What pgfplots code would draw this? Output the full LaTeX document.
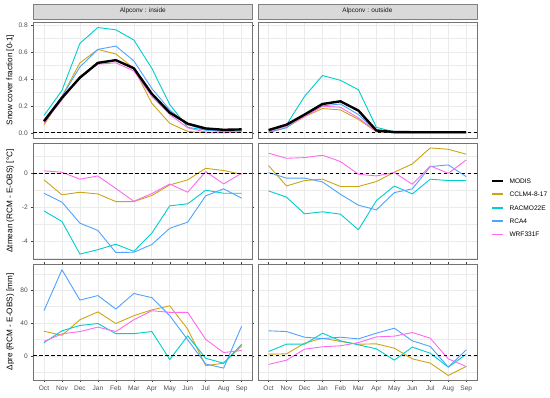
\documentclass[border=0pt]{standalone}
\usepackage{fontspec}
\setmainfont{Liberation Sans}
\usepackage{pgfplots}
\pgfplotsset{compat=1.18}
\usepackage{pgfplotstable}

\definecolor{cclm}{RGB}{205,165,20}
\definecolor{racmo}{RGB}{0,205,205}
\definecolor{rca}{RGB}{77,163,255}
\definecolor{wrf}{RGB}{255,105,240}
\definecolor{gridc}{RGB}{235,235,235}
\definecolor{tickc}{RGB}{77,77,77}
\definecolor{stripc}{RGB}{217,217,217}

\pgfplotstableread{
m modis cclm racmo rca wrf
1 0.086 0.057 0.128 0.086 0.074
2 0.260 0.270 0.315 0.270 0.245
3 0.410 0.520 0.665 0.490 0.420
4 0.520 0.620 0.783 0.620 0.510
5 0.540 0.586 0.766 0.645 0.520
6 0.480 0.480 0.690 0.535 0.460
7 0.290 0.220 0.480 0.330 0.270
8 0.150 0.070 0.210 0.170 0.135
9 0.067 0.010 0.040 0.060 0.037
10 0.032 0.000 0.020 0.020 0.005
11 0.022 0.000 0.010 0.010 0.000
12 0.025 0.005 0.020 0.012 0.007
}\snowin

\pgfplotstableread{
m modis cclm racmo rca wrf
1 0.020 0.000 0.012 0.005 0.010
2 0.060 0.040 0.060 0.037 0.050
3 0.135 0.120 0.270 0.135 0.120
4 0.214 0.180 0.426 0.200 0.197
5 0.234 0.170 0.390 0.214 0.190
6 0.165 0.100 0.320 0.135 0.110
7 0.017 0.007 0.040 0.012 0.010
8 0.005 0.000 0.007 0.000 0.000
9 0.004 0.000 0.000 0.000 0.000
10 0.004 0.000 0.000 0.000 0.000
11 0.004 0.000 0.000 0.000 0.000
12 0.004 0.000 0.000 0.000 0.000
}\snowout

\pgfplotstableread{
m cclm racmo rca wrf
1 -0.39 -2.22 -1.18 0.14
2 -1.27 -2.84 -1.70 0.06
3 -1.12 -4.76 -2.94 -0.35
4 -1.22 -4.50 -3.37 -0.16
5 -1.67 -4.18 -4.67 -0.90
6 -1.67 -4.60 -4.65 -1.65
7 -1.31 -3.53 -4.20 -1.20
8 -0.69 -1.92 -3.24 -0.63
9 -0.39 -1.80 -2.88 -1.12
10 0.29 -1.00 -1.33 0.10
11 0.16 -1.18 -0.92 -0.63
12 -0.06 -1.18 -1.47 0.00
}\tin

\pgfplotstableread{
m cclm racmo rca wrf
1 0.45 -1.04 0.04 1.18
2 -0.75 -1.41 -0.29 0.88
3 -0.43 -2.39 -0.29 0.92
4 -0.35 -2.27 -0.51 1.06
5 -0.78 -2.41 -1.24 0.69
6 -0.78 -3.33 -1.88 -0.06
7 -0.49 -1.61 -2.16 -0.16
8 0.06 -0.75 -1.14 0.04
9 0.55 -1.22 -0.92 -0.65
10 1.49 -0.35 0.39 0.43
11 1.41 -0.43 0.49 0.00
12 1.12 -0.43 -0.20 0.78
}\tout

\pgfplotstableread{
m cclm racmo rca wrf
1 30 16 55 17.5
2 25 30.5 105 26.8
3 44 37 68 29.6
4 53.6 39.4 73.5 35
5 39.4 27 57 29.6
6 49 27 76 44
7 56 29.6 71 55
8 61 -4.5 49 53
9 32.5 24.4 19.5 53
10 -12 -3 -10 20
11 -9 -9 -15 4
12 12 14 36 6.5
}\pin

\pgfplotstableread{
m cclm racmo rca wrf
1 2 5.3 30.5 -10.5
2 2.4 14.2 29.6 -5.3
3 15.4 14.2 22.7 8.1
4 21.5 27.6 21 11
5 17.5 18.3 22.7 12.2
6 14.2 13.4 20.7 16.2
7 14.6 8.5 27.6 23.1
8 9.3 -5.3 33.7 24
9 -3.7 10.6 18.3 28.4
10 -8.9 3.2 11.4 21.5
11 -24 -13.8 -13.8 -3.7
12 -13 2 7.3 -13
}\pout

\pgfplotsset{
  panel/.style={
    scale only axis, width=219.2bp, height=116bp,
    xmin=0.4, xmax=12.6, xtick={1,...,12},
    axis line style={draw=black!55, line width=0.6bp},
    grid=both,
    major grid style={draw=gridc, line width=0.6bp},
    minor grid style={draw=gridc, line width=0.35bp},
    tick align=outside, major tick length=2bp, minor tick length=0pt,
    tick style={black!75, line width=0.5bp},
    ticklabel style={font=\fontsize{6.6}{7}\selectfont, text=tickc},
    every axis plot/.append style={line width=0.9bp, line join=round},
    ylabel style={at={(axis description cs:-0.105,0.5)}, anchor=center, font=\fontsize{8.2}{9}\selectfont},
    title style={at={(axis description cs:0.5,1)}, anchor=south, yshift=-3bp,
      fill=stripc, draw=black!50, line width=0.5bp, minimum width=219.2bp, minimum height=15bp,
      inner sep=0pt, font=\fontsize{6.5}{7}\selectfont, text=black!90},
  },
  noxt/.style={xticklabels={}, xtick style={draw=none}},
  noyt/.style={yticklabels={}, ytick style={draw=none}},
  months/.style={xticklabels={Oct,Nov,Dec,Jan,Feb,Mar,Apr,May,Jun,Jul,Aug,Sep}},
  snowax/.style={ymin=-0.039, ymax=0.824, ytick={0,0.2,0.4,0.6,0.8}, minor ytick={0.1,0.3,0.5,0.7},
     yticklabels={0.0,0.2,0.4,0.6,0.8}},
  tax/.style={ymin=-5.05, ymax=1.78, ytick={-4,-2,0}, minor ytick={-5,-3,-1,1},
     yticklabels={-4,-2,0}},
  pax/.style={ymin=-29.5, ymax=112, ytick={0,40,80}, minor ytick={-20,20,60,100},
     yticklabels={0,40,80}},
}

\begin{document}
\begin{tikzpicture}
\path[use as bounding box] (0bp,0bp) rectangle (550bp,398bp);

% ---------- top row: snow cover ----------
\begin{axis}[panel, snowax, noxt, at={(33.2bp,260bp)}, anchor=south west,
  title={Alpconv : inside}, ylabel={Snow cover fraction [0-1]}]
\addplot[cclm] table[x=m,y=cclm]{\snowin};
\addplot[racmo] table[x=m,y=racmo]{\snowin};
\addplot[rca] table[x=m,y=rca]{\snowin};
\addplot[wrf] table[x=m,y=wrf]{\snowin};
\addplot[black, line width=2.4bp] table[x=m,y=modis]{\snowin};
\addplot[black, dash pattern=on 3.5bp off 2.5bp, line width=0.7bp] coordinates {(0.4,0) (12.6,0)};
\end{axis}

\begin{axis}[panel, snowax, noxt, noyt, at={(257.8bp,260bp)}, anchor=south west,
  title={Alpconv : outside}]
\addplot[cclm] table[x=m,y=cclm]{\snowout};
\addplot[racmo] table[x=m,y=racmo]{\snowout};
\addplot[rca] table[x=m,y=rca]{\snowout};
\addplot[wrf] table[x=m,y=wrf]{\snowout};
\addplot[black, line width=2.4bp] table[x=m,y=modis]{\snowout};
\addplot[black, dash pattern=on 3.5bp off 2.5bp, line width=0.7bp] coordinates {(0.4,0) (12.6,0)};
\end{axis}

% ---------- middle row: temperature ----------
\begin{axis}[panel, tax, noxt, at={(33.2bp,139bp)}, anchor=south west,
  ylabel={Δtmean (RCM - E-OBS) [°C]}]
\addplot[cclm] table[x=m,y=cclm]{\tin};
\addplot[racmo] table[x=m,y=racmo]{\tin};
\addplot[rca] table[x=m,y=rca]{\tin};
\addplot[wrf] table[x=m,y=wrf]{\tin};
\addplot[black, dash pattern=on 3.5bp off 2.5bp, line width=0.7bp] coordinates {(0.4,0) (12.6,0)};
\end{axis}

\begin{axis}[panel, tax, noxt, noyt, at={(257.8bp,139bp)}, anchor=south west,
  legend image code/.code={\draw[#1, line width=1.8bp] (0bp,0bp) -- (11bp,0bp);},
  legend style={at={(axis description cs:1.064,0.442)}, anchor=west, draw=none, fill=none,
    font=\fontsize{6.6}{7}\selectfont, inner sep=0pt, row sep=8.6bp,
    nodes={inner sep=0pt, text height=4.8bp, text depth=0bp},
    /tikz/every odd column/.append style={column sep=5.5bp}},
  legend cell align=left]
\addlegendimage{black}
\addlegendentry{MODIS}
\addlegendimage{cclm}
\addlegendentry{CCLM4-8-17}
\addlegendimage{racmo}
\addlegendentry{RACMO22E}
\addlegendimage{rca}
\addlegendentry{RCA4}
\addlegendimage{wrf}
\addlegendentry{WRF331F}
\addplot[cclm, forget plot] table[x=m,y=cclm]{\tout};
\addplot[racmo, forget plot] table[x=m,y=racmo]{\tout};
\addplot[rca, forget plot] table[x=m,y=rca]{\tout};
\addplot[wrf, forget plot] table[x=m,y=wrf]{\tout};
\addplot[black, dash pattern=on 3.5bp off 2.5bp, line width=0.7bp, forget plot] coordinates {(0.4,0) (12.6,0)};
\end{axis}

% ---------- bottom row: precipitation ----------
\begin{axis}[panel, pax, months, at={(33.2bp,18bp)}, anchor=south west,
  ylabel={Δpre (RCM - E-OBS) [mm]}]
\addplot[cclm] table[x=m,y=cclm]{\pin};
\addplot[racmo] table[x=m,y=racmo]{\pin};
\addplot[rca] table[x=m,y=rca]{\pin};
\addplot[wrf] table[x=m,y=wrf]{\pin};
\addplot[black, dash pattern=on 3.5bp off 2.5bp, line width=0.7bp] coordinates {(0.4,0) (12.6,0)};
\end{axis}

\begin{axis}[panel, pax, months, noyt, at={(257.8bp,18bp)}, anchor=south west]
\addplot[cclm] table[x=m,y=cclm]{\pout};
\addplot[racmo] table[x=m,y=racmo]{\pout};
\addplot[rca] table[x=m,y=rca]{\pout};
\addplot[wrf] table[x=m,y=wrf]{\pout};
\addplot[black, dash pattern=on 3.5bp off 2.5bp, line width=0.7bp] coordinates {(0.4,0) (12.6,0)};
\end{axis}
\end{tikzpicture}
\end{document}
